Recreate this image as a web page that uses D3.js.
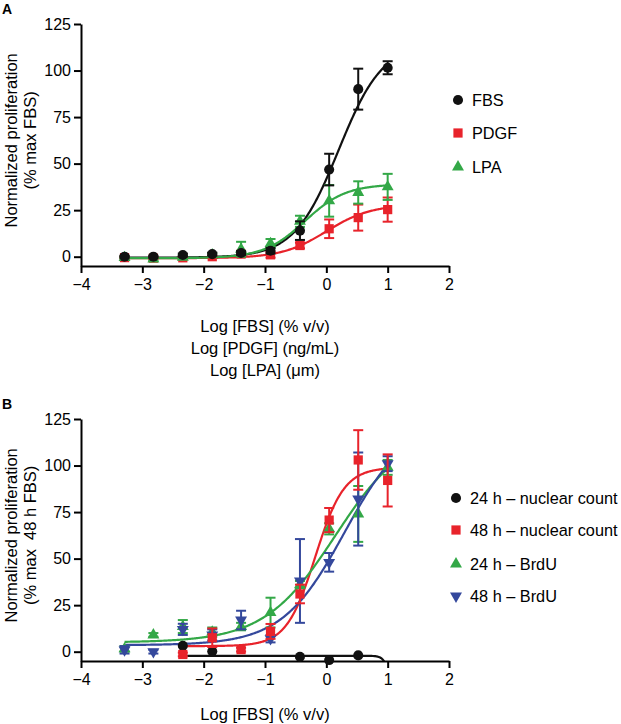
<!DOCTYPE html>
<html><head><meta charset="utf-8">
<script src="https://cdn.jsdelivr.net/npm/d3@7"></script>
<style>
body{margin:0;background:#fff}
svg{display:block}
text{font-family:"Liberation Sans",Arial,Helvetica,sans-serif;fill:#000;white-space:pre}
</style>
</head><body>
<svg id="chart" width="621" height="724"></svg>
<script>
// ---------- DATA ----------
const logDose = [-3.29, -2.82, -2.34, -1.86, -1.39, -0.91, -0.43, 0.046, 0.52, 1.0];
const xTicks = [-4, -3, -2, -1, 0, 1, 2];
const yTicks = [0, 25, 50, 75, 100, 125];

// Panel A
const seriesA = ["FBS", "PDGF", "LPA"];
const fbsA     = [0, 0, 0.9, 1.4, 2, 3.2, 14, 46.8, 90, 101.5];
const fbsAErr  = [0.5, 0.5, 0.8, 0.8, 1, 1.5, 5, 8.5, 11, 3.5];
const pdgfA    = [-0.5, -0.8, -0.6, 0, 1.4, 1.0, 6, 15, 21, 25.3];
const pdgfAErr = [0.5, 0.5, 0.5, 0.5, 1, 1.5, 1.5, 5, 7, 6.5];
const lpaA     = [-0.5, -1.2, -0.3, 1, 4, 7, 19, 30, 34.5, 37.5];
const lpaAErr  = [0.5, 0.8, 0.8, 1, 4, 2.5, 3, 8.5, 6, 7];
// fitted sigmoid (4PL) parameters per series, panel A
const fitBottomA = [-0.5, -0.8, -0.8];
const fitTopA    = [115, 28, 39];
const fitEC50A   = [0.2, 0.0, -0.35];
const fitHillA   = [1.2, 1.2, 1.3];
const fitRangeA  = [[-3.29, 1.0], [-3.29, 1.0], [-3.29, 1.0]];

// Panel B
const seriesB = ["24 h \u2013 nuclear count", "48 h \u2013 nuclear count", "24 h \u2013 BrdU", "48 h \u2013 BrdU"];
const nuc24B     = [null, null, 3.2, 0.2, null, null, -2.7, -4.5, -2, null];
const nuc24BErr  = [0, 0, 0, 0, 0, 0, 0, 0, 0, 0];
const nuc48B     = [null, null, -1.5, 7.5, 1.1, 10.9, 31, 70.7, 103, 92];
const nuc48BErr  = [0, 0, 1, 5, 1, 4, 5, 6.5, 16, 14];
const brdu24B    = [1.5, 9, 13.5, 10.5, 13.5, 21, 36, 66, 74, 99];
const brdu24BErr = [1.5, 1, 3.5, 2.5, 2, 8, 2, 3, 15, 4];
const brdu48B    = [1, 0, 12, 9, 17, 7, 38, 48, 82, 101];
const brdu48BErr = [2, 1, 3, 3, 5, 2, 22.5, 5, 25, 4];
const fitBottomB = [-2.2, 3, 5, 3.5];
const fitTopB    = [-60, 99, 120, 125];
const fitEC50B   = [1.1, -0.18, 0.15, 0.3];
const fitHillB   = [8, 1.85, 0.75, 0.85];
const fitRangeB  = [[-2.34, 1.0], [-2.34, 1.0], [-3.29, 1.0], [-3.29, 1.0]];

const colBlack = "#111111", colRed = "#e8232b", colGreen = "#33a847", colBlue = "#34489c";

// ---------- DRAWING ----------
const svg = d3.select("#chart");
const FONT = 16;

function marker(shape) {
  if (shape === "circle") return d3.symbol().type(d3.symbolCircle).size(80)();
  if (shape === "square") return d3.symbol().type(d3.symbolSquare).size(85)();
  return d3.symbol().type(d3.symbolTriangle).size(62)();
}

function drawPanel(p) {
  const g = svg.append("g");
  const x = d3.scaleLinear().domain([-4, 2]).range([81, 449]);
  const y = d3.scaleLinear().domain([-5, 125]).range([p.bottom, p.top]);
  const clipId = "clip" + p.id;
  svg.append("clipPath").attr("id", clipId).append("rect")
    .attr("x", 81).attr("y", p.top - 10).attr("width", 380).attr("height", p.bottom - p.top + 10);

  // axes
  const ay = g.append("g").attr("transform", "translate(81,0)")
    .call(d3.axisLeft(y).tickValues(yTicks).tickSize(7).tickSizeOuter(0).tickPadding(3).tickFormat(d3.format("d")));
  const ax = g.append("g").attr("transform", `translate(0,${p.bottom})`)
    .call(d3.axisBottom(x).tickValues(xTicks).tickSize(7).tickSizeOuter(0).tickPadding(6).tickFormat(d3.format("d")));
  [ay, ax].forEach(a => {
    a.select(".domain").attr("stroke", "#000").attr("stroke-width", 2);
    a.selectAll(".tick line").attr("stroke", "#000").attr("stroke-width", 2);
    a.selectAll(".tick text").attr("font-size", FONT).attr("fill", "#000")
      .attr("font-family", '"Liberation Sans",Arial,sans-serif');
  });

  // panel letter
  g.append("text").attr("x", 2).attr("y", p.top - 10).attr("font-size", 14).attr("font-weight", "bold").text(p.letter);

  // y title
  const cy = (y(0) + y(125)) / 2;
  p.yTitle.forEach((t, i) => {
    g.append("text").attr("transform", `translate(${17 + i * 19},${cy}) rotate(-90)`)
      .attr("text-anchor", "middle").attr("font-size", 16.5).text(t);
  });
  // x title
  p.xTitle.forEach((t, i) => {
    g.append("text").attr("x", 265).attr("y", p.bottom + p.xTitleOffset + i * 22)
      .attr("text-anchor", "middle").attr("font-size", 16.5).text(t);
  });

  const fit = (xv, b, t, c, h) => b + (t - b) / (1 + Math.pow(10, (c - xv) * h));
  const line = d3.line().x(d => x(d[0])).y(d => y(d[1]));

  // curves
  const curveG = g.append("g").attr("clip-path", `url(#${clipId})`);
  p.series.forEach((s, k) => {
    const [x0, x1] = p.range[k];
    const pts = d3.range(0, 301).map(i => {
      const xv = x0 + (x1 - x0) * i / 300;
      return [xv, Math.max(-8, fit(xv, p.bottomP[k], p.topP[k], p.ec50[k], p.hill[k]))];
    });
    curveG.append("path").attr("d", line(pts)).attr("fill", "none")
      .attr("stroke", s.color).attr("stroke-width", 2.2);
  });

  // error bars and markers (in draw order)
  p.order.forEach(k => {
    const s = p.series[k];
    const eg = g.append("g").attr("stroke", s.color).attr("stroke-width", 2);
    logDose.forEach((xv, i) => {
      const v = s.vals[i], e = s.errs[i];
      if (v == null || !e) return;
      const px = x(xv);
      eg.append("line").attr("x1", px).attr("x2", px).attr("y1", y(v - e)).attr("y2", y(v + e));
      eg.append("line").attr("x1", px - 5).attr("x2", px + 5).attr("y1", y(v + e)).attr("y2", y(v + e));
      eg.append("line").attr("x1", px - 5).attr("x2", px + 5).attr("y1", y(v - e)).attr("y2", y(v - e));
    });
    logDose.forEach((xv, i) => {
      const v = s.vals[i];
      if (v == null) return;
      g.append("path").attr("d", marker(s.shape))
        .attr("transform", `translate(${x(xv)},${y(v)})${s.shape === "down" ? " rotate(180)" : ""}`)
        .attr("fill", s.color);
    });
  });

  // legend
  p.series.forEach((s, k) => {
    const ly = p.legendY[k];
    g.append("path").attr("d", marker(s.shape))
      .attr("transform", `translate(${p.legendX},${ly})${s.shape === "down" ? " rotate(180)" : ""}`)
      .attr("fill", s.color);
    g.append("text").attr("x", p.legendX + 14).attr("y", ly + 6).attr("font-size", 16.3).text(s.name);
  });
}

drawPanel({
  id: "A", letter: "A", top: 24, bottom: 266,
  yTitle: ["Normalized proliferation", "(% max FBS)"],
  xTitle: ["Log [FBS] (% v/v)", "Log [PDGF] (ng/mL)", "Log [LPA] (\u03bcm)"], xTitleOffset: 66,
  series: [
    { name: seriesA[0], vals: fbsA, errs: fbsAErr, color: colBlack, shape: "circle" },
    { name: seriesA[1], vals: pdgfA, errs: pdgfAErr, color: colRed, shape: "square" },
    { name: seriesA[2], vals: lpaA, errs: lpaAErr, color: colGreen, shape: "tri" }
  ],
  bottomP: fitBottomA, topP: fitTopA, ec50: fitEC50A, hill: fitHillA, range: fitRangeA,
  order: [1, 2, 0],
  legendX: 458, legendY: [100, 133, 167]
});

drawPanel({
  id: "B", letter: "B", top: 419, bottom: 661,
  yTitle: ["Normalized proliferation", "(% max  48 h FBS)"],
  xTitle: ["Log [FBS] (% v/v)"], xTitleOffset: 59,
  series: [
    { name: seriesB[0], vals: nuc24B, errs: nuc24BErr, color: colBlack, shape: "circle" },
    { name: seriesB[1], vals: nuc48B, errs: nuc48BErr, color: colRed, shape: "square" },
    { name: seriesB[2], vals: brdu24B, errs: brdu24BErr, color: colGreen, shape: "tri" },
    { name: seriesB[3], vals: brdu48B, errs: brdu48BErr, color: colBlue, shape: "down" }
  ],
  bottomP: fitBottomB, topP: fitTopB, ec50: fitEC50B, hill: fitHillB, range: fitRangeB,
  order: [2, 3, 0, 1],
  legendX: 456, legendY: [498, 530, 564, 596]
});
</script>
</body></html>
